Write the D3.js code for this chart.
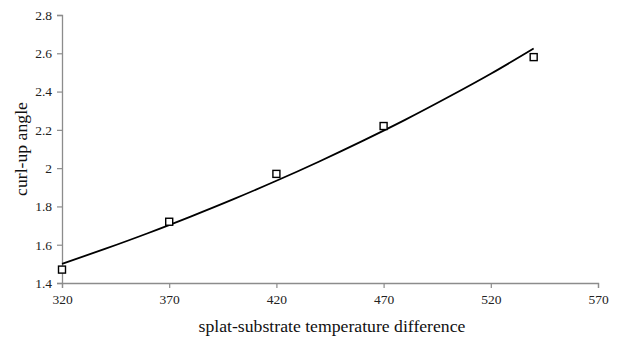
<!DOCTYPE html>
<html><head><meta charset="utf-8">
<script src="https://cdn.jsdelivr.net/npm/d3@7/dist/d3.min.js"></script>
<style>body{margin:0;background:#fff}svg{display:block}</style>
</head><body><svg id="c" width="620" height="340"></svg>
<script>
const tempDiff = [320, 370, 420, 470, 540];
const curlAngle = [1.47, 1.72, 1.97, 2.22, 2.58];
// trendline points
const trendX = [320, 340, 360, 380, 400, 420, 440, 460, 480, 500, 520, 540];
const trendY = [1.500, 1.578, 1.660, 1.747, 1.838, 1.934, 2.035, 2.141, 2.252, 2.370, 2.493, 2.625];
const xTicks = [320, 370, 420, 470, 520, 570];
const yTicks = [1.4, 1.6, 1.8, 2.0, 2.2, 2.4, 2.6, 2.8];
const xLabel = "splat-substrate temperature difference";
const yLabel = "curl-up angle";

const svg = d3.select("#c");
const m = {l: 62, r: 22, t: 15, b: 57};
const W = 620, H = 340;
const x = d3.scaleLinear().domain([320, 570]).range([m.l, W - m.r]);
const y = d3.scaleLinear().domain([1.4, 2.8]).range([H - m.b, m.t]);
const font = "'Liberation Serif', 'Times New Roman', serif";
const axisColor = "#8c8c8c";

const gx = svg.append("g").attr("transform", `translate(0,${H - m.b})`)
  .call(d3.axisBottom(x).tickValues(xTicks).tickFormat(d3.format("d")).tickSize(5).tickPadding(6));
const gy = svg.append("g").attr("transform", `translate(${m.l},0)`)
  .call(d3.axisLeft(y).tickValues(yTicks).tickFormat(d => d === 2 ? "2" : d3.format(".1f")(d)).tickSize(5).tickPadding(5));
[gx, gy].forEach(g => {
  g.select(".domain").attr("stroke", axisColor).attr("stroke-width", 1.3);
  g.selectAll(".tick line").attr("stroke", axisColor).attr("stroke-width", 1.2);
  g.selectAll(".tick text").attr("fill", "#222").style("font-family", font).style("font-size", "13.5px");
});

const line = d3.line().x((d, i) => x(trendX[i])).y(d => y(d)).curve(d3.curveMonotoneX);
svg.append("path").datum(trendY).attr("d", line)
  .attr("fill", "none").attr("stroke", "#000").attr("stroke-width", 1.8);

const s = 7;
svg.append("g").selectAll("rect").data(curlAngle).join("rect")
  .attr("x", (d, i) => x(tempDiff[i]) - s / 2)
  .attr("y", d => y(d) - s / 2)
  .attr("width", s).attr("height", s)
  .attr("fill", "#fff").attr("stroke", "#000").attr("stroke-width", 1.4);

svg.append("text").attr("x", 332).attr("y", 332)
  .attr("text-anchor", "middle").style("font-family", font).style("font-size", "17.7px").attr("fill", "#111")
  .text(xLabel);
svg.append("text").attr("transform", `translate(27,${(m.t + H - m.b) / 2}) rotate(-90)`)
  .attr("text-anchor", "middle").style("font-family", font).style("font-size", "17.7px").attr("fill", "#111")
  .text(yLabel);
</script></body></html>
